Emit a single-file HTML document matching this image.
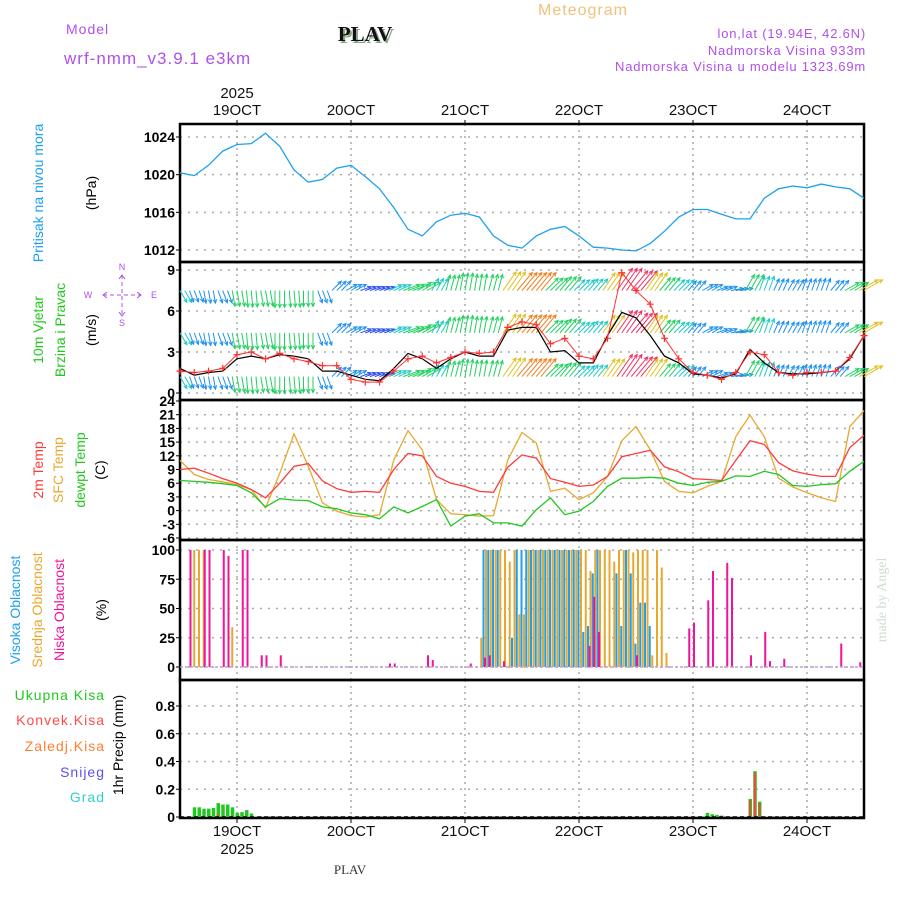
<!DOCTYPE html>
<html><head><meta charset="utf-8"><style>
html,body{margin:0;padding:0;background:#fff;}
svg{display:block;font-family:"Liberation Sans","DejaVu Sans",sans-serif;}
</style></head><body>
<svg id="chart" width="900" height="900" viewBox="0 0 900 900" xmlns="http://www.w3.org/2000/svg">
<rect x="0" y="0" width="900" height="900" fill="#fff"/>
<text x="583" y="15" font-size="16" fill="#f0c27a" text-anchor="middle" letter-spacing="1">Meteogram</text>
<text x="66" y="34" font-size="14" fill="#b050e8" letter-spacing="1">Model</text>
<text x="64" y="64" font-size="17" fill="#b050e8" letter-spacing="1">wrf-nmm_v3.9.1 e3km</text>
<text x="367" y="43" font-size="21" font-weight="bold" fill="#8aa888" font-family="Liberation Serif,serif" text-anchor="middle">PLAV</text>
<text x="365" y="41" font-size="21" font-weight="bold" fill="#111" font-family="Liberation Serif,serif" text-anchor="middle">PLAV</text>
<g font-size="13" fill="#b050e8" text-anchor="end" letter-spacing="0.8">
<text x="866" y="38">lon,lat (19.94E, 42.6N)</text>
<text x="866" y="55">Nadmorska Visina 933m</text>
<text x="866" y="71">Nadmorska Visina u modelu 1323.69m</text>
</g>
<g id="axes"></g>
<g id="marks"></g>
<g font-size="14">
<text transform="translate(43,193) rotate(-90)" text-anchor="middle" fill="#1ea0f0">Pritisak na nivou mora</text>
<text transform="translate(96,193) rotate(-90)" text-anchor="middle" fill="#000">(hPa)</text>
<text transform="translate(43,330) rotate(-90)" text-anchor="middle" fill="#20c820">10m Vjetar</text>
<text transform="translate(65,330) rotate(-90)" text-anchor="middle" fill="#20c820">Brzina i Pravac</text>
<text transform="translate(96,330) rotate(-90)" text-anchor="middle" fill="#000">(m/s)</text>
<text transform="translate(43,470) rotate(-90)" text-anchor="middle" fill="#ff3a3a">2m Temp</text>
<text transform="translate(63,470) rotate(-90)" text-anchor="middle" fill="#e8a830">SFC Temp</text>
<text transform="translate(85,470) rotate(-90)" text-anchor="middle" fill="#20c820">dewpt Temp</text>
<text transform="translate(105,470) rotate(-90)" text-anchor="middle" fill="#000">(C)</text>
<text transform="translate(20,610) rotate(-90)" text-anchor="middle" fill="#1ea0f0">Visoka Oblacnost</text>
<text transform="translate(42,610) rotate(-90)" text-anchor="middle" fill="#e8a830">Srednja Oblacnost</text>
<text transform="translate(64,610) rotate(-90)" text-anchor="middle" fill="#f0149a">Niska Oblacnost</text>
<text transform="translate(106,610) rotate(-90)" text-anchor="middle" fill="#000">(%)</text>
<text x="105" y="700" text-anchor="end" fill="#20c820" letter-spacing="1">Ukupna Kisa</text>
<text x="105" y="725" text-anchor="end" fill="#ff4a4a" letter-spacing="1">Konvek.Kisa</text>
<text x="105" y="751" text-anchor="end" fill="#ff8030" letter-spacing="1">Zaledj.Kisa</text>
<text x="105" y="777" text-anchor="end" fill="#5a50f0" letter-spacing="1">Snijeg</text>
<text x="105" y="802" text-anchor="end" fill="#30d0d0" letter-spacing="1">Grad</text>
<text transform="translate(123,745) rotate(-90)" text-anchor="middle" fill="#000">1hr Precip (mm)</text>
<text transform="translate(886,600) rotate(-90)" text-anchor="middle" fill="#d0dcd0" font-family="Liberation Serif,serif">made by Angel</text>
<text x="350" y="874" text-anchor="middle" fill="#333" font-size="13" font-family="Liberation Serif,serif">PLAV</text>
</g>
<g fill="#b050e8" stroke="#b050e8" font-size="9">
<text x="122" y="270" text-anchor="middle" stroke="none">N</text>
<text x="122" y="326" text-anchor="middle" stroke="none">S</text>
<text x="88" y="298" text-anchor="middle" stroke="none">W</text>
<text x="154" y="298" text-anchor="middle" stroke="none">E</text>
<line x1="103" y1="295" x2="141" y2="295" stroke-dasharray="4,3" stroke-width="1"/>
<line x1="122" y1="275" x2="122" y2="316" stroke-dasharray="4,3" stroke-width="1"/>
<polyline points="107,292 103,295 107,298" fill="none"/>
<polyline points="137,292 141,295 137,298" fill="none"/>
<polyline points="119,279 122,275 125,279" fill="none"/>
<polyline points="119,312 122,316 125,312" fill="none"/>
</g>
</svg>
<script>
const hours3 = [0,3,6,9,12,15,18,21,24,27,30,33,36,39,42,45,48,51,54,57,60,63,66,69,72,75,78,81,84,87,90,93,96,99,102,105,108,111,114,117,120,123,126,129,132,135,138,141,144];
const pressure = [1020.2,1019.9,1021,1022.5,1023.2,1023.3,1024.4,1023,1020.5,1019.2,1019.5,1020.7,1021,1019.8,1018.5,1016.5,1014.2,1013.5,1015,1015.7,1015.9,1015.5,1013.5,1012.5,1012.2,1013.5,1014.2,1014.5,1013.5,1012.3,1012.2,1012,1011.9,1012.7,1014,1015.5,1016.3,1016.3,1015.8,1015.3,1015.3,1017.5,1018.5,1018.8,1018.6,1019,1018.7,1018.5,1017.5];
const temp2m = [9,9.3,8.2,7,6,4.6,2.8,6,9.7,10.3,6.5,4.8,4,4.2,4,9,12.5,12,7.5,6,5.3,4.2,4,9.5,12.2,11.5,7,6.2,5.3,5.6,7.5,11.8,12.5,13.2,9.6,8.5,7,6.8,6.6,11,15.3,14.5,10.5,8.7,8,7.5,7.5,13.8,16.5];
const tempSfc = [11,7.9,6.8,6.3,5.7,4.6,0.6,8.2,16.8,9.7,1.7,-0.1,-1.1,-1.4,-0.9,11.1,17.5,13.3,2.4,-0.7,-0.9,-1.2,-1.1,11.1,17.1,14.8,4.2,4.9,2.4,3.9,7.5,15.3,18.4,13.3,6.4,4.2,3.9,5.3,6.4,16.2,20.9,16.2,7.1,5.2,3.9,2.8,2,18.4,21.9];
const dewpt = [6.6,6.4,6.2,5.9,5.5,3.9,0.8,2.6,2.3,2.2,0.8,0.4,-0.5,-0.9,-1.8,0.8,-0.5,0.9,2.4,-3.4,-1.2,-0.7,-2.7,-2.7,-3.4,0.2,2.8,-0.9,-0.1,2,5.3,7.1,7.1,7.3,7.1,6,5.5,6.2,6.4,7.6,7.5,8.6,7.9,5.5,5.3,5.7,5.9,8.6,10.8];
const windSpeed = [1.8,1.3,1.5,1.6,2.5,2.7,2.5,2.8,2.7,2.5,1.6,1.6,1.3,1,0.9,1.8,2.9,2.5,1.8,2.5,3,2.7,2.7,4.6,4.8,4.8,3,3.1,2.2,2.2,4.2,5.9,5.5,4.2,2.7,2.2,1.4,1.3,1.1,1.4,3.2,2.2,1.5,1.4,1.4,1.5,1.6,2.5,4.2];
const windGust = [1.6,1.5,1.6,1.8,2.8,3,2.5,2.9,2.5,2.3,2,2,1,0.8,0.8,1.6,2.5,2.7,2.2,2.6,3,2.9,3,4.8,5.2,5,3.6,4,2.7,2.5,4,8.8,7.5,6.5,4,2.5,1.5,1.3,1,1.5,3,2.8,1.5,1.3,1.5,1.5,1.6,2.6,4.2];
const windDir = [150,160,170,160,170,175,170,180,175,180,160,45,60,70,70,65,70,60,30,15,10,10,15,35,40,40,45,40,45,40,35,35,40,35,40,45,40,60,70,80,30,20,25,30,20,20,40,60,60];
const windRowLevels = [7.5,4.4,1.2];
const lowHours = [2,5,6,9,10,13,14,17,18,21,44,45,52,53,61,64,65,68,86,87,88,96,107,108,111,112,115,116,120,123,124,127,139,143];
const lowVals  = [100,100,100,100,95,100,100,10,10,10,3,3,10,6,3,8,10,5,18,60,30,10,33,38,57,82,89,76,10,30,5,7,20,4];
const midStart = 63;
const midVals  = [25,100,100,100,100,100,90,100,45,45,100,100,100,100,100,100,100,100,100,100,100,100,100,82,100,100,100,100,90,100,100,100,98,100,100,100,10,100,85,12,0,0];
const highVals = [0,100,100,100,100,0,0,25,100,100,100,100,100,100,100,100,100,100,100,100,100,100,30,35,80,100,0,0,0,80,35,100,80,20,55,55,35,0,0,0,0,0];
const midEarlyHours = [3,4,5,11];
const midEarlyVals = [100,100,100,34];
const precipHours = [3,4,5,6,7,8,9,10,11,12,13,14,15,110,111,112,113,114,120,121,122];
const precipTotal = [0.07,0.07,0.06,0.06,0.065,0.1,0.09,0.09,0.07,0.03,0.035,0.05,0.025,0.005,0.03,0.02,0.015,0.01,0.13,0.33,0.11];
const precipConv  = [0,0,0,0,0,0.02,0,0,0.01,0,0,0,0,0,0,0,0,0,0.12,0.32,0.1];
const dayLabels = ['19OCT','20OCT','21OCT','22OCT','23OCT','24OCT'];
const dayHours = [12,36,60,84,108,132];
const pTicks = [1012,1016,1020,1024];
const wTicks = [0,3,6,9];
const tTicks = [-6,-3,0,3,6,9,12,15,18,21,24];
const cTicks = [0,25,50,75,100];
const rTicks = [0,0.2,0.4,0.6,0.8];

const NS='http://www.w3.org/2000/svg';
const X0=180, X1=864;
const xs = h => X0 + h*(X1-X0)/144;
function lin(d0,d1,r0,r1){return v=>r0+(v-d0)*(r1-r0)/(d1-d0);}
const yP = lin(1012,1024,250,137);
const yW = lin(0,9,393,270);
const yT = lin(-6,24,538,401);
const yC = lin(0,100,667,550);
const yR = lin(0,0.8,817,706);
const panels=[{t:124,b:262,y:yP,ticks:pTicks,name:'pressure'},{t:262,b:400,y:yW,ticks:wTicks,name:'wind'},{t:400,b:540,y:yT,ticks:tTicks,name:'temperature'},{t:540,b:680,y:yC,ticks:cTicks,name:'cloud'},{t:680,b:818,y:yR,ticks:rTicks,name:'precip'}];
const axes=document.getElementById('axes'), marks=document.getElementById('marks');
function mk(tag,attrs,parent){const e=document.createElementNS(NS,tag);for(const k in attrs)e.setAttribute(k,attrs[k]);(parent||marks).appendChild(e);return e;}

panels.forEach(p=>{
  const g=mk('g',{},axes);
  
  
  dayHours.forEach(h=>{mk('line',{x1:xs(h),x2:xs(h),y1:p.t,y2:p.b,stroke:'#aaa','stroke-width':1.5,'stroke-dasharray':'2,4'},g);});
  p.ticks.forEach(v=>{
    const y=p.y(v);
    mk('line',{x1:X0,x2:X1,y1:y,y2:y,stroke:'#aaa','stroke-width':1.5,'stroke-dasharray':'2,6'},g);
    mk('line',{x1:X0-4,x2:X0,y1:y,y2:y,stroke:'#000','stroke-width':1},g);
    const t=mk('text',{x:X0-5,y:y+5,'text-anchor':'end','font-size':14,fill:'#000','font-weight':'bold'},g);
    t.textContent = p.name==='precip' ? (v===0?'0':v.toFixed(1)) : String(v);
    
    
  });
  mk('rect',{x:X0,y:p.t,width:X1-X0,height:p.b-p.t,fill:'none',stroke:'#000','stroke-width':2.5},g);
});
dayLabels.forEach((d,i)=>{
  const x=xs(dayHours[i]);
  const t=mk('text',{x:x,y:115,'text-anchor':'middle','font-size':15,fill:'#111'},axes);t.textContent=d;
  
  
  const b=mk('text',{x:x,y:836,'text-anchor':'middle','font-size':15,fill:'#111'},axes);b.textContent=d;
  
  
  mk('line',{x1:x,x2:x,y1:120,y2:124,stroke:'#000'},axes);
  mk('line',{x1:x,x2:x,y1:818,y2:823,stroke:'#000'},axes);
});
{const t=mk('text',{x:xs(12),y:98,'text-anchor':'middle','font-size':15,fill:'#111'},axes);t.textContent='2025';
 
 const b=mk('text',{x:xs(12),y:854,'text-anchor':'middle','font-size':15,fill:'#111'},axes);b.textContent='2025';
 }

function line(arr,yf,color,name,w){
  const pts=arr.map((v,i)=>xs(hours3[i]).toFixed(1)+','+yf(v).toFixed(1)).join(' ');
  const e=mk('polyline',{points:pts,fill:'none',stroke:color,'stroke-width':w||1.3});
  
  
  return e;
}
line(pressure,yP,'#1ea0f0','pressure-line');
const speedColors=['#7a20e0','#3050f0','#1e90f0','#20c8c8','#20d060','#90e020','#e0c020','#f08020','#f03060','#e020a0'];
windRowLevels.forEach((lvl,r)=>{
  hours3.forEach((h,i)=>{
    const s=windSpeed[i], a=windDir[i]*Math.PI/180;
    const len=8+s*3.2;
    const col=speedColors[Math.min(9,Math.round(s*1.4))];
    const g=mk('g',{stroke:col,'stroke-width':1,fill:'none'});
    
    
    for(let k=-1;k<=1;k++){
      if(h+k<0||h+k>144)continue;
      const x0=xs(h+k), y0=yW(lvl);
      const x1=x0+Math.sin(a)*len, y1=y0-Math.cos(a)*len;
      mk('line',{x1:x0,y1:y0,x2:x1,y2:y1},g);
      const ha=a+Math.PI;
      const hx1=x1+Math.sin(ha+0.45)*4, hy1=y1-Math.cos(ha+0.45)*4;
      const hx2=x1+Math.sin(ha-0.45)*4, hy2=y1-Math.cos(ha-0.45)*4;
      mk('polyline',{points:`${hx1},${hy1} ${x1},${y1} ${hx2},${hy2}`},g);
    }
  });
});
line(windSpeed,yW,'#000','wind-speed-line',1.2);
line(windGust,yW,'#ff3030','wind-gust-line',1);
windGust.forEach((v,i)=>{
  const x=xs(hours3[i]), y=yW(v);
  const e=mk('path',{d:`M${x-3.5},${y}H${x+3.5}M${x},${y-3.5}V${y+3.5}`,stroke:'#ff3030','stroke-width':1.2});
  
  
});
line(tempSfc,yT,'#e8a830','sfc-temp-line');
line(temp2m,yT,'#ff3a3a','temp-2m-line');
line(dewpt,yT,'#20c820','dewpoint-line');
function cbar(h,v,col,off,name){
  if(v<=0)return;
  const x=xs(h)+off;
  const e=mk('rect',{x:x,y:yC(v),width:2,height:yC(0)-yC(v),fill:col});
  
  
}
highVals.forEach((v,i)=>cbar(midStart+i,v,'#1ea0f0',-1.5,'high-cloud-bar'));
midVals.forEach((v,i)=>cbar(midStart+i,v,'#e8a830',1,'mid-cloud-bar'));
midEarlyVals.forEach((v,i)=>cbar(midEarlyHours[i],v,'#e8a830',-1,'mid-cloud-bar'));
lowHours.forEach((h,i)=>cbar(h,lowVals[i],'#f0149a',0,'low-cloud-bar'));
mk('line',{x1:X0,x2:X1,y1:yC(0),y2:yC(0),stroke:'#c0a0d0','stroke-width':1.5,'stroke-dasharray':'3,2'});
precipHours.forEach((h,i)=>{
  const x=xs(h)-1.5;
  const e=mk('rect',{x:x,y:yR(precipTotal[i]),width:3.5,height:yR(0)-yR(precipTotal[i]),fill:'#20c820'});
  
  
  if(precipConv[i]>0){
    const c=mk('rect',{x:x+0.5,y:yR(precipConv[i]),width:2,height:yR(0)-yR(precipConv[i]),fill:'#ff4040'});
    
    
  }
});
mk('line',{x1:X0,x2:X1,y1:817,y2:817,stroke:'#000','stroke-width':1.5,'stroke-dasharray':'4,3'});
</script>
</body></html>
